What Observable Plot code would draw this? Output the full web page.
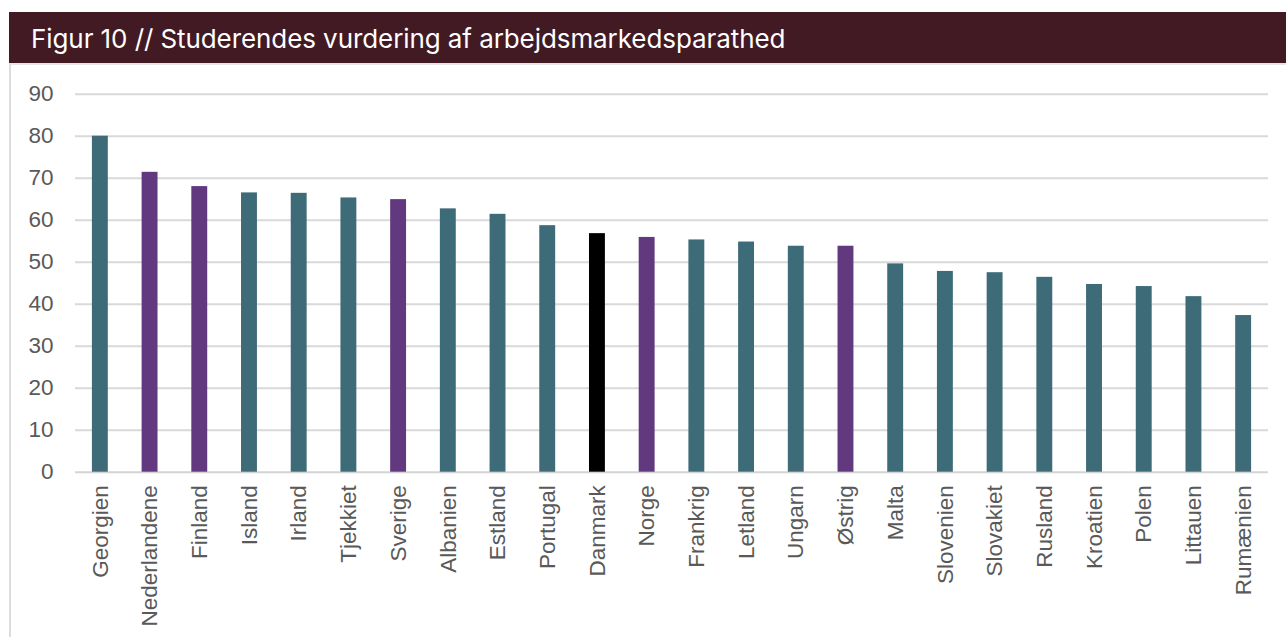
<!DOCTYPE html>
<html>
<head>
<meta charset="utf-8">
<script src="https://cdn.jsdelivr.net/npm/d3@7"></script>
<script src="https://cdn.jsdelivr.net/npm/@observablehq/plot@0.6"></script>
<style>
  html, body { margin: 0; padding: 0; background: #fff; width: 1286px; height: 637px; overflow: hidden; }
  #title {
    position: absolute; left: 9px; top: 12px; width: 1277px; height: 51px;
    background: #421a24; color: #fff;
    font-family: Inter, "Liberation Sans", sans-serif; font-size: 26px;
    line-height: 53px; padding-left: 22px; box-sizing: border-box; letter-spacing: -0.08px; white-space: nowrap;
  }
  #panel {
    position: absolute; left: 9px; top: 63px; width: 1277px; height: 580px;
    border-left: 2px solid #dcdcdc; border-top: 2px solid #e6e6e6; box-sizing: border-box;
  }
  #chart { position: absolute; left: 0; top: 63px; }
</style>
</head>
<body>
<div id="title">Figur 10 // Studerendes vurdering af arbejdsmarkedsparathed</div>
<div id="panel"></div>
<div id="chart"></div>
<script>
const countries = ["Georgien","Nederlandene","Finland","Island","Irland","Tjekkiet","Sverige","Albanien","Estland","Portugal","Danmark","Norge","Frankrig","Letland","Ungarn","Østrig","Malta","Slovenien","Slovakiet","Rusland","Kroatien","Polen","Littauen","Rumænien"];
const values = [80.0,71.4,68.0,66.5,66.4,65.3,64.9,62.7,61.4,58.7,56.8,55.9,55.3,54.8,53.8,53.8,49.6,47.8,47.5,46.4,44.7,44.2,41.8,37.3];
const groups = ["andre","norden","norden","andre","andre","andre","norden","andre","andre","andre","danmark","norden","andre","andre","andre","norden","andre","andre","andre","andre","andre","andre","andre","andre"];
const yTicks = [0,10,20,30,40,50,60,70,80,90];

const data = countries.map((c, i) => ({country: c, value: values[i], group: groups[i]}));

const chart = Plot.plot({
  width: 1286,
  height: 574,
  marginLeft: 75,
  marginRight: 18,
  marginTop: 30.7,
  marginBottom: 165.3,
  style: {fontFamily: "'Liberation Sans', Arial, sans-serif", background: "transparent"},
  x: {domain: countries, paddingInner: 0.68, paddingOuter: 0.34, round: false, label: null},
  y: {domain: [0, 90], label: null},
  color: {domain: ["andre","norden","danmark"], range: ["#3d6b77","#62387e","#000000"]},
  marks: [
    Plot.gridY(yTicks.filter(d => d > 0), {stroke: "#d9d9d9", strokeOpacity: 1, strokeWidth: 2}),
    Plot.ruleY([0], {stroke: "#d4d4d4", strokeWidth: 2}),
    Plot.barY(data, {x: "country", y: "value", fill: "group"}),
    Plot.axisY({ticks: yTicks, tickSize: 0, tickPadding: 22, fontSize: 22.5, color: "#595959", label: null}),
    Plot.axisX({tickSize: 0, tickRotate: -90, tickPadding: 13, fontSize: 22.5, color: "#595959", label: null})
  ]
});
document.getElementById("chart").appendChild(chart);
</script>
</body>
</html>
